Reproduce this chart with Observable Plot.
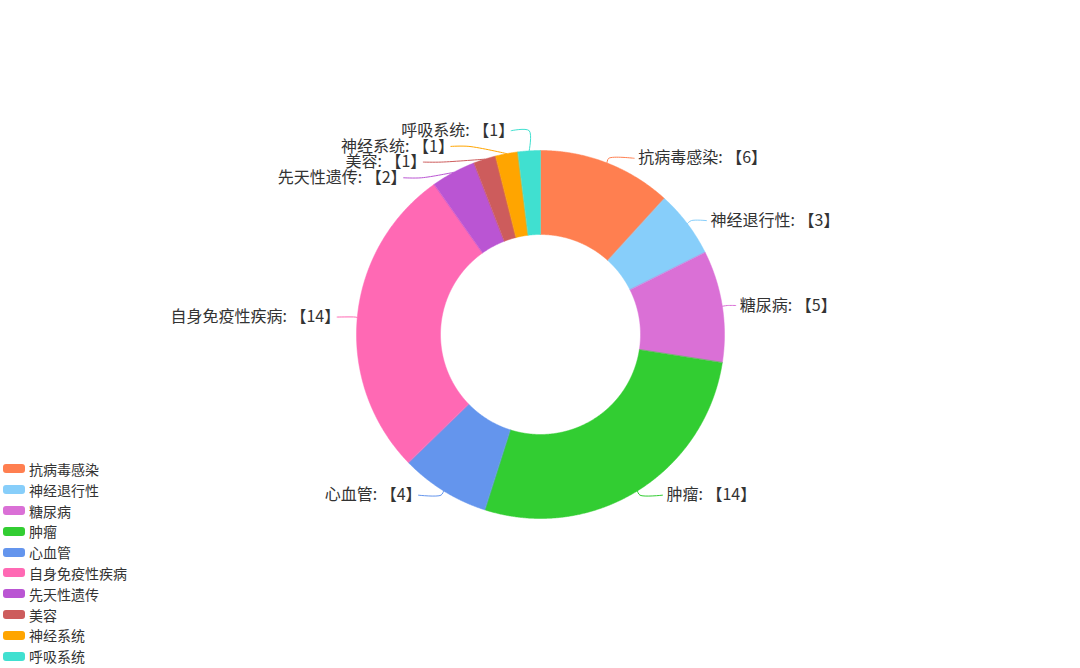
<!DOCTYPE html>
<html>
<head>
<meta charset="utf-8">
<script src="https://cdn.jsdelivr.net/npm/d3@7"></script>
<script src="https://cdn.jsdelivr.net/npm/@observablehq/plot@0.6"></script>
<style>
  body { margin: 0; background: #fff; font-family: "Noto Sans CJK SC", "Noto Sans", sans-serif; }
  #wrap { position: relative; width: 1080px; height: 668px; overflow: hidden; }
  #legend { position: absolute; left: 3px; top: 458.6px; }
  .row { display: flex; align-items: center; height: 20.8px; font-size: 14px; color: #333; white-space: nowrap; }
  .sw { width: 22px; height: 9px; border-radius: 3px; margin-right: 4px; }
</style>
</head>
<body>
<div id="wrap">
  <div id="chart"></div>
  <div id="legend"></div>
</div>
<script>
// Disease areas and the number of items in each
const categories = ["抗病毒感染", "神经退行性", "糖尿病", "肿瘤", "心血管", "自身免疫性疾病", "先天性遗传", "美容", "神经系统", "呼吸系统"];
const counts = [6, 3, 5, 14, 4, 14, 2, 1, 1, 1];
const palette = ["#ff7f50", "#87cefa", "#da70d6", "#32cd32", "#6495ed", "#ff69b4", "#ba55d3", "#cd5c5c", "#ffa500", "#40e0d0"];

// Layout (pixels)
const W = 1080, H = 668;
const cx = 540, cy = 334;          // ring centre
const outerR = 184, innerR = 100;  // ring radii
const len1 = 5, len2 = 18, lineStep = 15.7; // leader lines and label spacing
// distance from leader end to text anchor; the closing 】 carries its own right-side blank
const gapRight = 4, gapLeft = -3;

// Angles: 0 at 12 o'clock, clockwise
const arcs = d3.pie().sort(null).value(d => d)(counts);

// Ring slices as closed polygons in centre-relative pixel units (y up)
const slicePts = arcs.flatMap((p, i) => {
  const name = categories[i];
  const n = Math.max(2, Math.ceil((p.endAngle - p.startAngle) / 0.005));
  const pts = [];
  for (let k = 0; k <= n; k++) {
    const a = p.startAngle + (p.endAngle - p.startAngle) * k / n;
    pts.push({name, x: outerR * Math.sin(a), y: outerR * Math.cos(a)});
  }
  for (let k = n; k >= 0; k--) {
    const a = p.startAngle + (p.endAngle - p.startAngle) * k / n;
    pts.push({name, x: innerR * Math.sin(a), y: innerR * Math.cos(a)});
  }
  return pts;
});

// Outside labels with leader lines
const labels = arcs.map((p, i) => {
  const a = (p.startAngle + p.endAngle) / 2;
  const rb = outerR + len1;
  const c = Math.cos(a);
  return {
    name: categories[i],
    label: `${categories[i]}: 【${counts[i]}】`,
    dir: Math.sin(a) < 0 ? -1 : 1,
    x0: outerR * Math.sin(a), y0: outerR * c,
    bx: rb * Math.sin(a), by: rb * c, by0: rb * c,
    // steeper leaders get a longer horizontal run
    seg: 8 + 20 * c * c
  };
});

// Push overlapping labels apart on each side, keeping each crowded group centred
for (const dir of [-1, 1]) {
  const side = labels.filter(d => d.dir === dir).sort((a, b) => b.by - a.by);
  const clusters = [];
  for (const d of side) {
    clusters.push({items: [d], mean: d.by});
    while (clusters.length > 1) {
      const cur = clusters[clusters.length - 1], prev = clusters[clusters.length - 2];
      const prevBottom = prev.mean - (prev.items.length - 1) * lineStep / 2;
      const curTop = cur.mean + (cur.items.length - 1) * lineStep / 2;
      if (prevBottom - curTop >= lineStep) break;
      const items = prev.items.concat(cur.items);
      clusters.splice(-2, 2, {items, mean: d3.mean(items, e => e.by0)});
    }
  }
  for (const c of clusters) {
    const top = c.mean + (c.items.length - 1) * lineStep / 2;
    c.items.forEach((e, k) => { e.by = top - k * lineStep; });
  }
  // Re-seat shifted halves on an ellipse around the ring
  for (const upper of [true, false]) {
    const half = side.filter(d => (d.by >= 0) === upper);
    if (!half.some(d => Math.abs(d.by - d.by0) > 0.5)) continue;
    const rA = outerR + 2;
    const rB = Math.max(rA, d3.max(half, d => Math.abs(d.by)));
    for (const d of half) {
      const x = dir * rA * Math.sqrt(Math.max(0, 1 - (d.by * d.by) / (rB * rB)));
      d.bx = dir < 0 ? Math.min(x, d.x0) : Math.max(x, d.x0);
      d.seg = len2;
    }
  }
}
for (const d of labels) {
  d.ex = d.bx + d.dir * d.seg;
  d.tx = d.ex + (d.dir > 0 ? gapRight : -gapLeft);
}

const leaderPts = labels.flatMap(d => [
  {name: d.name, x: d.x0, y: d.y0},
  {name: d.name, x: d.bx, y: d.by},
  {name: d.name, x: d.ex, y: d.by}
]);

const textStyle = {fontSize: 16, fill: "#333", fontFamily: "Noto Sans CJK SC"};

const chart = Plot.plot({
  width: W,
  height: H,
  margin: 0,
  x: {domain: [-cx, W - cx], axis: null},
  y: {domain: [cy - H, cy], axis: null},
  color: {domain: categories, range: palette},
  style: {fontFamily: "Noto Sans CJK SC", background: "transparent"},
  marks: [
    Plot.line(slicePts, {x: "x", y: "y", z: "name", fill: "name", stroke: "name", strokeWidth: 0.5, curve: "linear-closed"}),
    Plot.line(leaderPts, {x: "x", y: "y", z: "name", stroke: "name", strokeWidth: 1, curve: "catmull-rom"}),
    Plot.text(labels.filter(d => d.dir > 0), {x: "tx", y: "by", text: "label", textAnchor: "start", ...textStyle}),
    Plot.text(labels.filter(d => d.dir < 0), {x: "tx", y: "by", text: "label", textAnchor: "end", ...textStyle})
  ]
});
document.getElementById("chart").append(chart);

// Legend column
const legend = document.getElementById("legend");
categories.forEach((name, i) => {
  const row = document.createElement("div");
  row.className = "row";
  const sw = document.createElement("div");
  sw.className = "sw";
  sw.style.background = palette[i];
  const t = document.createElement("span");
  t.textContent = name;
  row.append(sw, t);
  legend.append(row);
});
</script>
</body>
</html>
